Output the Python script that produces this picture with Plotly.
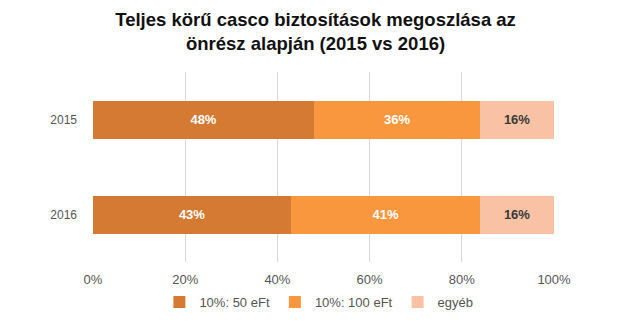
import plotly.graph_objects as go

years = ["2015", "2016"]
series_names = ["10%: 50 eFt", "10%: 100 eFt", "egyéb"]
values_50 = [48, 43]
values_100 = [36, 41]
values_other = [16, 16]
tick_vals = [0, 20, 40, 60, 80, 100]
tick_text = ["0%", "20%", "40%", "60%", "80%", "100%"]

colors = ["#D47A32", "#F8973E", "#F9C2A5"]
text_colors = ["white", "white", "#3a3a3a"]
font_family = "Liberation Sans, Arial, sans-serif"

fig = go.Figure()
for name, vals, col, tcol in zip(series_names, [values_50, values_100, values_other], colors, text_colors):
    fig.add_trace(go.Bar(
        y=years, x=vals, name=name, orientation="h",
        marker=dict(color=col, line=dict(width=0)),
        text=[f"{v}%" for v in vals], textposition="inside", insidetextanchor="middle",
        textfont=dict(family=font_family, size=13, color=tcol, weight="bold"),
        hoverinfo="skip",
    ))

fig.update_layout(
    barmode="stack",
    bargap=0.6,
    width=644, height=322,
    margin=dict(l=93, r=90, t=72, b=60, autoexpand=False),
    paper_bgcolor="white", plot_bgcolor="white",
    font=dict(family=font_family, size=12, color="#555555"),
    title=dict(
        text="<b>Teljes körű casco biztosítások megoszlása az<br>önrész alapján (2015 vs 2016)</b>",
        x=0.49, xanchor="center", y=0.918, yanchor="top",
        font=dict(family=font_family, size=18.5, color="#111111"),
    ),
    xaxis=dict(range=[0, 100], tickvals=tick_vals, ticktext=tick_text,
               showgrid=True, gridcolor="#D9D9D9", gridwidth=1, zeroline=False,
               showline=False, ticks="", tickfont=dict(size=13, color="#555555"),
               ticklabelstandoff=8, fixedrange=True),
    yaxis=dict(autorange="reversed", showgrid=False, zeroline=False, showline=False,
               ticks="", ticklabelstandoff=15, tickfont=dict(size=12, color="#555555"),
               fixedrange=True),
    legend=dict(orientation="h", x=0.49, xanchor="center", yref="container",
                y=0.062, yanchor="middle",
                font=dict(size=13, color="#555555"), traceorder="normal",
                itemwidth=30),
    showlegend=True,
)

fig.write_html("out.html")
